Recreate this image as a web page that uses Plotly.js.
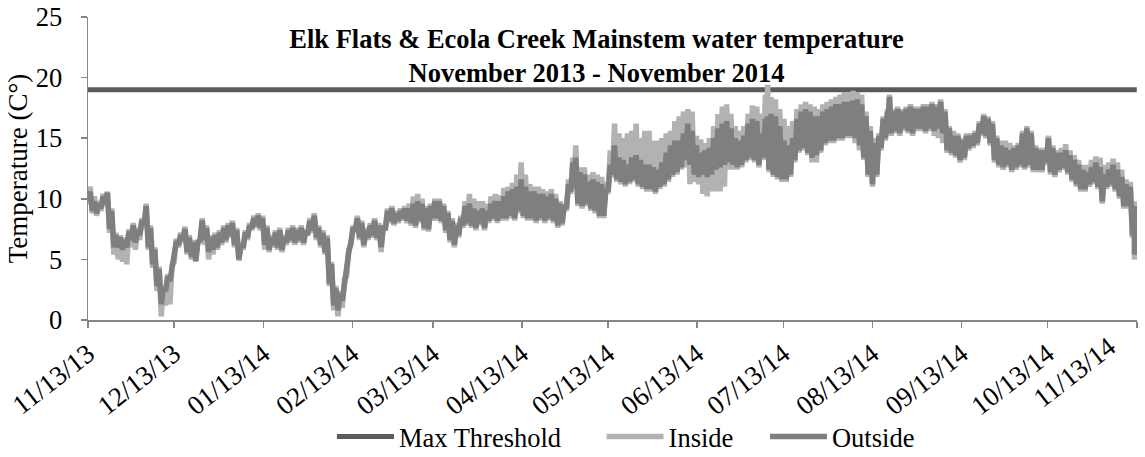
<!DOCTYPE html>
<html>
<head>
<meta charset="utf-8">
<script src="https://cdn.plot.ly/plotly-3.0.1.min.js"></script>
<style>html,body{margin:0;padding:0;background:#fff;}#chart{width:1145px;height:457px;}</style>
</head>
<body>
<div id="chart"></div>
<script>
const dayOffset = [
  0,1.5,3,4.5,6,7.5,9,10.5,12,13.5,
  15,16.5,18,19.5,21,22.5,24,25.5,27,28.5,
  30,31.5,33,34.5,36,37.5,39,40.5,42,43.5,
  45,46.5,48,49.5,51,52.5,54,55.5,57,58.5,
  60,61.5,63,64.5,66,67.5,69,70.5,72,73.5,
  75,76.5,78,79.5,81,82.5,84,85.5,87,88.5,
  90,91.5,93,94.5,96,97.5,99,100.5,102,103.5,
  105,106.5,108,109.5,111,112.5,114,115.5,117,118.5,
  120,121.5,123,124.5,126,127.5,129,130.5,132,133.5,
  135,136.5,138,139.5,141,142.5,144,145.5,147,148.5,
  150,151.5,153,154.5,156,157.5,159,160.5,162,163.5,
  165,166.5,168,169,170.5,172,173.5,175,176.5,178,
  179.5,181,182.5,184,185.5,187,188.5,190,191.5,193,
  194.5,196,197.5,199,200.5,202,203.5,205,206.5,208,
  209.5,211,212.5,214,215.5,217,218.5,220,221.5,223,
  224.5,226,227.5,229,230.5,232,233.5,235,235.8,237,
  238.5,240,241.5,243,244.5,246,247.5,249,250.5,252,
  253.5,255,256.5,258,259.5,261,262.5,264,265.5,267,
  268.5,270,271.5,273,274.5,276,277.5,278.2,279.5,281,
  282.5,284,285.5,287,288.5,290,291.5,293,294.5,296,
  297.5,299,300.5,302,303.5,305,306.5,308,309.5,311,
  312.5,314,315.5,317,318.5,320,321.5,323,324.5,326,
  327.5,329,330.5,332,333.5,335,336.5,338,339.5,341,
  342.5,344,345.5,347,348.5,350,351.5,353,354.5,356,
  357.5,359,360.5,362,363.5,364.2
];
const outsideLow = [
  9.8,9.0,8.8,9.2,9.6,7.5,6.0,6.0,5.8,6.0,
  6.6,6.4,7.0,7.8,6.0,4.6,2.8,1.3,2.4,3.2,
  5.0,6.2,6.6,5.6,5.2,4.9,6.6,6.6,5.6,5.8,
  6.0,6.4,6.6,7.0,6.2,5.0,6.0,6.8,7.6,7.8,
  7.6,6.2,5.8,6.2,6.0,5.8,6.4,6.6,6.4,6.6,
  6.4,7.2,7.4,6.8,6.2,5.6,3.0,1.2,0.8,1.6,
  4.0,6.4,7.4,6.8,6.2,6.8,7.0,6.8,6.0,7.6,
  8.2,8.0,8.2,8.4,8.2,8.0,7.8,8.2,7.6,7.5,
  8.4,8.4,8.2,7.4,6.6,6.2,7.0,7.8,8.0,7.8,
  7.6,8.0,7.6,8.2,8.4,8.2,8.4,8.4,8.6,8.4,
  9.0,8.6,8.4,8.4,8.2,8.4,8.2,8.4,8.2,7.8,
  8.0,9.2,10.6,11.0,9.6,9.4,9.6,9.2,9.0,8.6,
  8.6,10.6,12.0,11.6,11.4,11.2,11.4,11.6,11.2,11.0,
  10.8,10.8,10.6,11.0,11.2,11.6,12.0,12.2,12.6,13.2,
  12.8,12.0,11.8,12.0,11.8,12.0,12.4,12.6,12.8,13.0,
  12.8,12.6,12.8,13.2,13.4,13.2,12.8,13.4,13.6,12.4,
  12.0,11.8,11.6,11.6,12.0,13.2,14.0,14.2,13.8,13.4,
  13.6,14.0,14.6,14.8,14.8,15.0,15.0,15.2,15.2,15.0,
  14.4,13.4,12.0,11.2,12.0,14.2,15.0,15.4,15.4,15.6,
  15.4,15.8,15.6,15.4,15.8,15.8,15.6,15.8,15.6,15.8,
  15.4,14.0,13.8,13.6,13.2,13.4,14.2,14.4,14.6,15.4,
  15.2,14.6,13.2,12.8,12.6,12.8,12.4,12.6,12.8,12.6,
  12.8,12.4,12.4,12.4,13.0,12.2,12.0,12.4,12.6,12.2,
  11.6,11.2,10.8,10.8,11.2,11.4,11.0,9.8,11.0,11.2,
  10.8,10.2,9.4,9.4,7.0,5.4
];
const outsideHigh = [
  10.6,9.8,9.6,10.2,10.5,9.0,7.0,6.8,6.6,7.3,
  7.8,7.4,8.2,9.4,7.6,5.8,4.2,2.6,3.6,4.3,
  6.5,7.0,7.5,6.8,6.4,6.4,8.2,7.6,6.8,7.0,
  7.2,7.6,7.8,8.0,7.4,6.2,7.2,7.8,8.4,8.6,
  8.4,7.6,6.8,7.2,7.4,6.8,7.4,7.6,7.4,7.6,
  7.2,8.2,8.6,7.6,7.2,6.8,4.6,2.6,2.2,3.2,
  5.6,7.6,8.4,8.0,7.4,7.8,8.2,7.8,7.6,9.0,
  9.2,8.8,9.0,9.2,9.2,9.6,9.8,9.6,9.2,9.4,
  9.8,9.8,9.4,8.8,8.2,7.8,8.4,9.4,9.6,9.2,
  9.0,9.2,9.0,9.6,9.8,9.8,10.2,10.6,10.8,11.0,
  11.6,11.0,10.6,10.6,10.4,10.4,10.2,10.4,10.0,9.6,
  9.4,11.2,13.0,13.4,12.2,12.0,11.4,11.6,11.4,11.2,
  10.8,12.8,14.4,13.4,13.2,12.8,13.4,13.6,13.2,12.8,
  12.8,12.6,12.4,13.0,13.8,14.4,14.8,14.8,15.4,16.2,
  15.6,14.4,13.8,14.0,14.2,15.0,15.8,16.2,16.4,15.8,
  15.0,14.8,15.2,16.2,16.6,16.4,15.4,16.6,16.8,17.0,
  16.8,16.0,14.8,14.4,15.0,16.6,17.2,17.4,17.2,16.8,
  16.8,17.2,17.4,17.6,17.8,17.8,18.0,18.0,18.1,18.2,
  17.8,16.8,15.6,14.6,15.2,16.6,17.2,18.4,17.2,17.4,
  17.2,17.4,17.6,17.4,17.4,17.6,17.6,17.8,17.6,18.0,
  17.2,15.8,15.2,15.2,14.8,15.2,15.2,15.4,16.2,16.8,
  16.6,16.2,15.0,14.4,14.2,14.0,14.2,14.4,15.4,15.8,
  15.4,14.2,14.0,14.0,15.0,14.2,13.8,13.8,14.0,13.6,
  13.2,12.8,12.4,12.2,12.6,13.0,12.6,12.0,12.4,12.8,
  12.4,11.8,11.2,11.0,9.4,6.6
];
const insideLow = [
  9.6,8.8,8.6,9.0,9.4,7.2,5.4,5.0,4.8,4.6,
  6.0,5.8,6.6,7.6,5.8,4.3,2.4,0.3,1.2,1.3,
  4.8,6.0,6.4,5.4,5.0,4.8,6.4,6.2,5.0,5.4,
  5.8,6.2,6.4,6.8,6.0,4.9,5.8,6.6,7.4,7.6,
  7.4,5.8,5.6,6.0,5.8,5.6,6.2,6.4,6.2,6.4,
  6.2,7.0,7.2,6.6,6.0,5.4,2.8,0.8,0.3,1.0,
  3.6,6.2,7.2,6.6,6.0,6.6,6.8,6.6,5.6,7.4,
  8.0,7.8,8.0,8.2,8.0,7.8,7.6,8.0,7.4,7.3,
  8.2,8.2,8.0,7.2,6.4,6.0,6.8,7.6,7.8,7.6,
  7.4,7.8,7.4,8.0,8.2,8.0,8.2,8.2,8.4,8.2,
  8.8,8.4,8.2,8.2,8.0,8.2,8.0,8.2,8.0,7.6,
  7.8,9.0,10.4,10.8,9.4,9.2,9.4,9.0,8.8,8.4,
  8.4,10.4,11.8,11.4,11.2,11.0,11.2,11.4,11.0,10.8,
  10.6,10.6,10.4,10.8,11.0,11.4,11.8,12.0,12.4,12.6,
  11.2,11.4,11.2,10.4,10.2,10.6,10.6,10.6,11.0,12.4,
  12.4,12.4,12.6,13.0,13.2,13.0,12.6,13.2,13.4,12.2,
  11.8,11.6,11.4,11.4,11.8,13.0,13.8,14.0,13.6,13.0,
  13.0,13.8,14.4,14.6,14.6,14.8,14.8,15.0,15.0,14.6,
  14.0,13.2,11.8,11.0,11.8,14.0,14.8,15.2,15.2,15.4,
  15.2,15.6,15.4,15.2,15.6,15.6,15.4,15.6,15.2,15.0,
  14.6,13.8,13.6,13.4,13.0,13.2,14.0,14.2,14.4,15.2,
  15.0,14.4,13.0,12.6,12.4,12.6,12.2,12.4,12.6,12.4,
  12.6,12.2,12.2,12.2,12.8,12.0,11.8,12.2,12.4,12.0,
  11.4,11.0,10.6,10.6,11.0,11.2,10.8,9.6,10.8,11.0,
  10.6,10.0,9.2,9.2,6.8,5.0
];
const insideHigh = [
  11.0,10.2,9.8,10.4,10.6,9.2,7.2,7.0,6.8,7.5,
  8.0,7.6,8.4,9.6,7.8,6.0,4.4,2.8,3.8,4.5,
  6.7,7.2,7.7,7.0,6.6,6.6,8.4,7.8,7.0,7.2,
  7.4,7.8,8.0,8.2,7.6,6.4,7.4,8.0,8.6,8.8,
  8.6,7.8,7.0,7.4,7.6,7.0,7.6,7.8,7.6,7.8,
  7.4,8.4,8.8,7.8,7.4,7.0,4.8,2.8,2.4,3.4,
  5.8,7.8,8.6,8.2,7.6,8.0,8.4,8.0,7.8,9.2,
  9.4,9.0,9.2,9.4,9.6,10.2,10.4,10.0,9.4,9.6,
  10.0,10.0,9.6,9.0,8.4,8.0,8.6,9.8,10.4,10.0,
  9.8,9.8,9.6,10.2,10.4,10.3,10.9,11.0,11.3,12.0,
  13.0,12.0,11.2,11.0,11.0,10.8,10.6,10.8,10.4,9.8,
  9.6,11.6,13.4,14.4,12.6,12.6,12.0,12.2,12.0,11.8,
  11.4,14.0,16.2,15.4,15.0,15.4,15.6,16.2,15.0,15.6,
  15.6,14.8,14.8,15.0,15.4,15.6,16.4,16.8,17.2,17.4,
  17.2,15.2,14.9,14.6,15.0,16.0,17.0,17.6,17.8,17.0,
  16.0,15.6,16.0,17.0,17.7,17.6,17.0,18.6,19.4,18.4,
  18.2,17.4,16.6,16.0,16.4,17.4,17.8,18.0,17.8,17.6,
  17.4,17.8,18.0,18.2,18.4,18.6,18.8,18.8,18.9,18.8,
  18.6,17.2,16.0,15.0,15.4,16.8,17.4,18.6,17.4,17.6,
  17.4,17.6,17.8,17.6,17.6,17.8,17.8,18.0,17.8,18.2,
  17.4,16.0,15.6,15.4,15.0,15.4,15.4,15.6,16.4,17.0,
  16.8,16.4,15.2,14.8,14.8,14.6,14.4,14.6,15.6,16.0,
  15.6,14.4,14.2,14.2,15.2,14.4,14.0,14.2,14.5,14.0,
  13.6,13.2,12.8,12.8,13.2,13.5,13.4,12.8,13.0,13.3,
  13.0,12.4,11.6,11.4,9.8,6.8
];
const maxThreshold = 19;
const startDate = '2013-11-13';
const endDate = '2014-11-13';
const tickDates = ['2013-11-13','2013-12-13','2014-01-13','2014-02-13','2014-03-13','2014-04-13',
  '2014-05-13','2014-06-13','2014-07-13','2014-08-13','2014-09-13','2014-10-13','2014-11-13'];
const tickLabels = ['11/13/13','12/13/13','01/13/14','02/13/14','03/13/14','04/13/14',
  '05/13/14','06/13/14','07/13/14','08/13/14','09/13/14','10/13/14','11/13/14'];

const t0 = Date.UTC(2013, 10, 13);
function dayToDate(d) {
  return new Date(t0 + d * 86400000).toISOString().slice(0, 19).replace('T', ' ');
}
// Each sample contributes its daily low and, later the same period, its daily high
function zigzag(lows, highs) {
  const x = [], y = [];
  for (let i = 0; i < dayOffset.length; i++) {
    x.push(dayToDate(dayOffset[i])); y.push(lows[i]);
    x.push(dayToDate(dayOffset[i] + 0.75)); y.push(highs[i]);
  }
  return {x, y};
}
const ins = zigzag(insideLow, insideHigh);
const outs = zigzag(outsideLow, outsideHigh);

const serif = 'Liberation Serif, Times New Roman, serif';
const axisGray = '#868686';
const tickFont = {family: serif, size: 27, color: '#000'};
const traces = [
  {x: [startDate, endDate], y: [maxThreshold, maxThreshold], name: 'Max Threshold', mode: 'lines',
   line: {color: '#5b5b5b', width: 5}, legend: 'legend'},
  {x: ins.x, y: ins.y, name: 'Inside', mode: 'lines', line: {color: '#b2b2b2', width: 5.5}, legend: 'legend2'},
  {x: outs.x, y: outs.y, name: 'Outside', mode: 'lines', line: {color: '#7f7f7f', width: 5.5}, legend: 'legend3'}
];
const legendFont = {family: serif, size: 26.5, color: '#000'};
function legendAt(xPos) {
  return {orientation: 'h', xref: 'container', yref: 'container', x: xPos, xanchor: 'left',
          y: 0.044, yanchor: 'middle', font: legendFont, bgcolor: 'rgba(0,0,0,0)', itemwidth: 57};
}
// the last date label is pulled left so that it stays inside the picture, as in the original
const lastIdx = tickLabels.length - 1;
const shownTickText = tickLabels.map((t, i) => i === lastIdx ? '' : t);
const layout = {
  width: 1145, height: 457,
  margin: {l: 88, r: 8, t: 17, b: 137},
  paper_bgcolor: '#fff', plot_bgcolor: '#fff',
  font: {family: serif, color: '#000'},
  showlegend: true,
  title: {
    text: 'Elk Flats & Ecola Creek Mainstem water temperature<br>November 2013 - November 2014',
    font: {family: serif, size: 26.5, weight: 'bold', color: '#000'},
    xref: 'container', x: 0.521, xanchor: 'center',
    yref: 'container', y: 0.895, yanchor: 'top'
  },
  xaxis: {
    type: 'date', range: [startDate, '2014-11-13 02:00'],
    tickmode: 'array', tickvals: tickDates, ticktext: shownTickText, tickangle: -38,
    ticks: 'outside', ticklen: 6, tickcolor: axisGray, tickwidth: 1.5,
    showline: true, linecolor: axisGray, linewidth: 1.5,
    showgrid: false, zeroline: false,
    tickfont: tickFont
  },
  yaxis: {
    range: [0, 25], tickmode: 'linear', tick0: 0, dtick: 5,
    ticks: 'outside', ticklen: 6, tickcolor: axisGray, tickwidth: 1.5,
    showline: true, linecolor: axisGray, linewidth: 1.5,
    showgrid: false, zeroline: false, ticklabelstandoff: 13,
    tickfont: {family: serif, size: 26.5, color: '#000'},
    title: {text: 'Temperature (C°)', font: {family: serif, size: 27, color: '#000'}, standoff: 0}
  },
  annotations: [{
    text: tickLabels[lastIdx], x: tickDates[lastIdx], xref: 'x', y: 0, yref: 'paper',
    xanchor: 'right', yanchor: 'top', xshift: -12, yshift: -8, textangle: -38,
    showarrow: false, font: tickFont
  }],
  legend: legendAt(0.2899),
  legend2: legendAt(0.5254),
  legend3: legendAt(0.6681),
  hovermode: false
};
Plotly.newPlot('chart', traces, layout, {displayModeBar: false, staticPlot: true});
</script>
</body>
</html>
